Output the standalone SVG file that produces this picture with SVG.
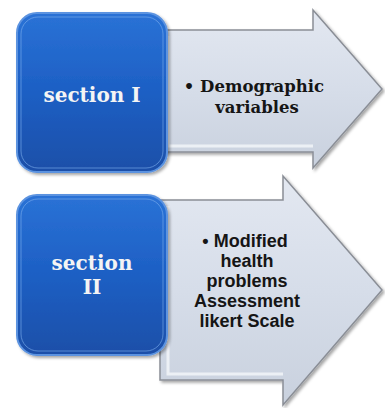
<svg xmlns="http://www.w3.org/2000/svg" width="385" height="408" viewBox="0 0 385 408">
<style>
.arrow{stroke:#8a8e96;stroke-width:1.5;stroke-linejoin:miter}
.box{stroke:#5b93e0;stroke-width:2}
.lbl{font-family:"DejaVu Serif","Liberation Serif",serif;font-weight:bold;fill:#f4f4f4;text-anchor:middle;font-size:20px}
.t1{font-family:"DejaVu Serif","Liberation Serif",serif;font-weight:bold;fill:#151515;text-anchor:middle;font-size:16.5px}
.t2{font-family:"Liberation Sans","Arial",sans-serif;font-weight:bold;fill:#151515;text-anchor:middle;font-size:18px}
</style>
<defs>
<linearGradient id="blue" x1="0" y1="0" x2="0" y2="1">
<stop offset="0" stop-color="#2a72d6"/>
<stop offset="0.5" stop-color="#1d5fc4"/>
<stop offset="1" stop-color="#1a4fa8"/>
</linearGradient>
<linearGradient id="grey" x1="0" y1="0" x2="0" y2="1">
<stop offset="0" stop-color="#e3e8f1"/>
<stop offset="0.5" stop-color="#d6dde9"/>
<stop offset="1" stop-color="#c9d1de"/>
</linearGradient>
<filter id="sh" x="-10%" y="-10%" width="130%" height="130%">
<feDropShadow dx="2" dy="2" stdDeviation="1.5" flood-color="#000" flood-opacity="0.35"/>
</filter>
</defs>
<rect width="385" height="408" fill="#ffffff"/>
<g id="connectors"></g>
<g id="arrow1">
<polygon class="arrow" fill="url(#grey)" filter="url(#sh)" points="160,30 313,30 313,10 382,89 313,168 313,152 160,152"/>
<polyline points="168,36 168,146 313,146" fill="none" stroke="#f4f6fa" stroke-width="3" opacity="0.8"/>
<text class="t1" x="254" y="92">• Demographic</text>
<text class="t1" x="257" y="113">variables</text>
</g>
<g id="arrow2">
<polygon class="arrow" fill="url(#grey)" filter="url(#sh)" points="160,200 283,200 283,176 382,290 283,405 283,380 160,380"/>
<polyline points="168,206 168,374 283,374" fill="none" stroke="#f4f6fa" stroke-width="3" opacity="0.8"/>
<text class="t2" x="245" y="247">• Modified</text>
<text class="t2" x="247" y="267">health</text>
<text class="t2" x="247" y="287">problems</text>
<text class="t2" x="247" y="307">Assessment</text>
<text class="t2" x="247" y="327">likert Scale</text>
</g>
<g id="section1">
<rect class="box" x="17" y="13" width="150" height="159" rx="20" fill="url(#blue)" filter="url(#sh)"/>
<rect x="21" y="17" width="142" height="151" rx="17" fill="none" stroke="#7fb0ee" stroke-width="1" opacity="0.6"/>
<text class="lbl" x="92" y="102">section I</text>
</g>
<g id="section2">
<rect class="box" x="17" y="195" width="150" height="160" rx="20" fill="url(#blue)" filter="url(#sh)"/>
<rect x="21" y="199" width="142" height="152" rx="17" fill="none" stroke="#7fb0ee" stroke-width="1" opacity="0.6"/>
<text class="lbl" x="92" y="270">section</text>
<text class="lbl" x="92" y="294">II</text>
</g>
</svg>
